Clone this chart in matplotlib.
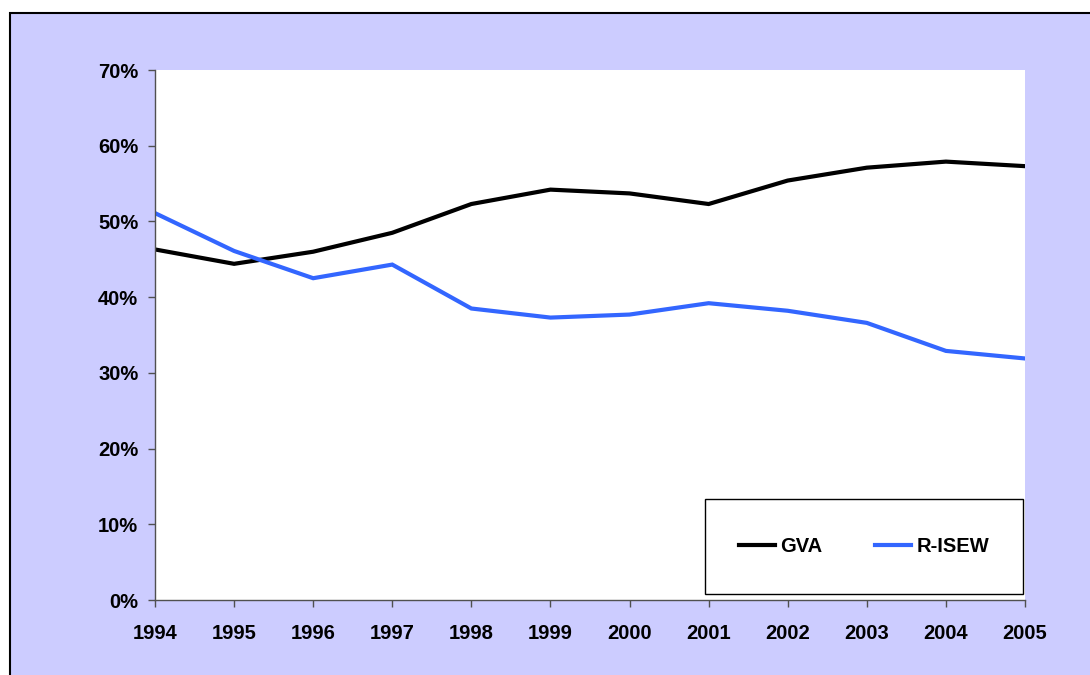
import matplotlib.pyplot as plt
from matplotlib.patches import Rectangle
from matplotlib.ticker import FuncFormatter

years = [1994, 1995, 1996, 1997, 1998, 1999, 2000, 2001, 2002, 2003, 2004, 2005]
gva = [46.3, 44.4, 46.0, 48.5, 52.3, 54.2, 53.7, 52.3, 55.4, 57.1, 57.9, 57.3]
risew = [51.1, 46.1, 42.5, 44.3, 38.5, 37.3, 37.7, 39.2, 38.2, 36.6, 32.9, 31.9]

W, H = 1090, 675
plt.rcParams['font.family'] = ['Liberation Sans', 'DejaVu Sans']
plt.rcParams['font.weight'] = 'bold'

fig = plt.figure(figsize=(W / 100, H / 100), dpi=100)
fig.patch.set_facecolor('white')

# lavender chart area with black frame (right/bottom edges run off the image)
bg = Rectangle((10 / W, -0.05), 1.1, 1 - 13 / H + 0.05, transform=fig.transFigure,
               facecolor='#CCCCFF', edgecolor='black', linewidth=1.5, zorder=-10)
fig.patches.append(bg)

ax = fig.add_axes([155 / W, 1 - 600 / H, (1025 - 155) / W, (600 - 70) / H])
ax.set_facecolor('white')

ax.plot(years, gva, color='black', lw=3, label='GVA', solid_joinstyle='miter')
ax.plot(years, risew, color='#3366FF', lw=3, label='R-ISEW', solid_joinstyle='miter')

ax.set_xlim(1994, 2005)
ax.set_ylim(0, 70)
ax.set_xticks(years)
ax.set_yticks(range(0, 71, 10))
ax.yaxis.set_major_formatter(FuncFormatter(lambda v, p: f'{int(v)}%'))

for s in ['top', 'right']:
    ax.spines[s].set_visible(False)
for s in ['left', 'bottom']:
    ax.spines[s].set_color('#505050')
    ax.spines[s].set_linewidth(1)

ax.tick_params(axis='x', direction='out', length=5, width=1, color='#505050',
               pad=12, labelsize=14.5)
ax.tick_params(axis='y', direction='out', length=5, width=1, color='#505050',
               pad=7, labelsize=14.5)
for lab in ax.get_xticklabels() + ax.get_yticklabels():
    lab.set_fontweight('bold')

# legend box
lx0, ly0, lx1, ly1 = 705, 499, 1023, 594
box = Rectangle((lx0 / W, 1 - ly1 / H), (lx1 - lx0) / W, (ly1 - ly0) / H,
                transform=fig.transFigure, facecolor='white', edgecolor='black',
                linewidth=1, zorder=5)
fig.patches.append(box)
leg = fig.legend(loc='center', bbox_to_anchor=((lx0 + lx1) / 2 / W, 1 - (ly0 + ly1) / 2 / H),
                 ncol=2, frameon=False, prop={'size': 14.5, 'weight': 'bold'},
                 handlelength=1.8, handletextpad=0.25, columnspacing=2.6)
leg.set_zorder(6)

fig.savefig('out.png', dpi=100, facecolor=fig.get_facecolor())
